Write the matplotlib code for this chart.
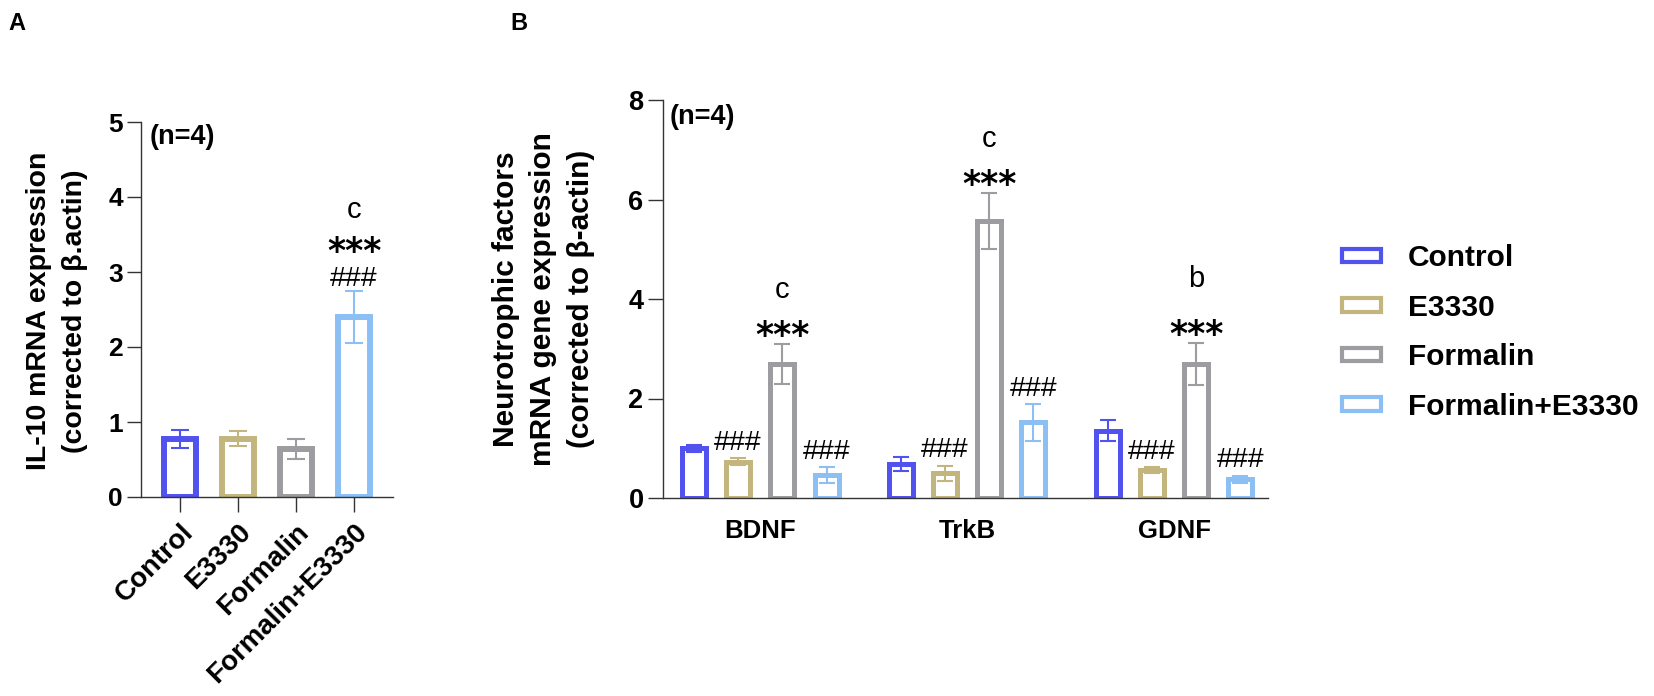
import matplotlib
matplotlib.use("Agg")
import matplotlib.pyplot as plt
from matplotlib.patches import Patch
import numpy as np

plt.rcParams['font.family'] = ['Liberation Sans', 'DejaVu Sans']

groups = ["Control", "E3330", "Formalin", "Formalin+E3330"]
colors = ["#5252EE", "#C2B67E", "#9D9DA1", "#8CC0F4"]

# Panel A: IL-10
il10_mean = [0.77, 0.78, 0.64, 2.40]
il10_err = [0.12, 0.10, 0.13, 0.35]
il10_hash = ["", "", "", "###"]
il10_star = ["", "", "", "***"]
il10_letter = ["", "", "", "c"]

# Panel B: neurotrophic factors
genes = ["BDNF", "TrkB", "GDNF"]
nf_mean = {
    "Control": [1.00, 0.68, 1.35],
    "E3330": [0.73, 0.50, 0.56],
    "Formalin": [2.70, 5.57, 2.70],
    "Formalin+E3330": [0.46, 1.52, 0.38],
}
nf_err = {
    "Control": [0.07, 0.14, 0.21],
    "E3330": [0.07, 0.15, 0.06],
    "Formalin": [0.40, 0.56, 0.42],
    "Formalin+E3330": [0.16, 0.37, 0.07],
}
nf_hash = {
    "Control": ["", "", ""],
    "E3330": ["###", "###", "###"],
    "Formalin": ["", "", ""],
    "Formalin+E3330": ["###", "###", "###"],
}
nf_star = {"Formalin": ["***", "***", "***"]}
nf_letter = {"Formalin": ["c", "c", "b"]}

ylabel_A = ["IL-10 mRNA expression", "(corrected to β.actin)"]
ylabel_B = ["Neurotrophic factors", "mRNA gene expression", "(corrected to β-actin)"]

W, H = 1654, 696
fig = plt.figure(figsize=(W / 100, H / 100), dpi=100)

def ax_rect(x0, y0, x1, y1):
    return [x0 / W, 1 - y1 / H, (x1 - x0) / W, (y1 - y0) / H]

axis_col = "#333333"
HASH_FS = 20.5
STAR_FS = 25
LET_FS = 21
TICK_FS = 19
star_font = ["DejaVu Sans"]

# ---------------- Panel A ----------------
axA = fig.add_axes(ax_rect(141, 122, 393, 497))
xa = np.arange(len(groups))
for i in range(len(groups)):
    axA.bar(xa[i], il10_mean[i], width=0.55, facecolor="white",
            edgecolor=colors[i], linewidth=4.3, zorder=2)
    axA.errorbar(xa[i], il10_mean[i], yerr=il10_err[i], color=colors[i],
                 elinewidth=1.5, capsize=6.5, capthick=1.5, zorder=3, fmt="none")
    top = il10_mean[i] + il10_err[i]
    if il10_hash[i]:
        axA.text(xa[i], top + 0.07, il10_hash[i], ha="center", va="baseline",
                 fontsize=HASH_FS, color="black")
    if il10_star[i]:
        axA.text(xa[i], top + 0.38, il10_star[i], ha="center", va="baseline",
                 fontsize=STAR_FS, fontweight="bold", color="black",
                 family=star_font)
    if il10_letter[i]:
        axA.text(xa[i], top + 0.97, il10_letter[i], ha="center", va="baseline",
                 fontsize=LET_FS, color="black")
axA.set_xlim(-0.672, 3.672)
axA.set_ylim(0, 5)
axA.set_yticks([0, 1, 2, 3, 4, 5])
axA.set_xticks(xa)
axA.set_xticklabels(groups, rotation=45, ha="right", va="top",
                    rotation_mode="anchor", fontweight="bold", fontsize=20)
for lab in axA.get_yticklabels():
    lab.set_fontweight("bold")
axA.tick_params(axis="y", labelsize=TICK_FS, length=10, width=1, color=axis_col, pad=3)
axA.tick_params(axis="x", length=11, width=1, color=axis_col, pad=5)
for s in ["top", "right"]:
    axA.spines[s].set_visible(False)
for s in ["left", "bottom"]:
    axA.spines[s].set_color(axis_col)
    axA.spines[s].set_linewidth(1)
axA.text(9 / 252, 0.995, "(n=4)", transform=axA.transAxes, ha="left", va="top",
         fontsize=19.5, fontweight="bold")
for xpix, line in zip([39, 75], ylabel_A):
    fig.text(xpix / W, 1 - 311 / H, line, rotation=90, ha="center", va="center",
             fontsize=20.5, fontweight="bold")

# ---------------- Panel B ----------------
axB = fig.add_axes(ax_rect(663, 100, 1268, 498))
xg = np.arange(len(genes))
off = 0.214
bw = 0.116
for j, g in enumerate(groups):
    xs = xg + (j - 1.5) * off
    for k in range(len(genes)):
        m = nf_mean[g][k]
        e = nf_err[g][k]
        axB.bar(xs[k], m, width=bw, facecolor="white", edgecolor=colors[j],
                linewidth=3.6, zorder=2)
        axB.errorbar(xs[k], m, yerr=e, color=colors[j], elinewidth=1.5,
                     capsize=5.5, capthick=1.5, zorder=3, fmt="none")
        top = m + e
        if nf_hash[g][k]:
            axB.text(xs[k], top + 0.17, nf_hash[g][k], ha="center",
                     va="baseline", fontsize=HASH_FS, color="black")
        if g in nf_star:
            axB.text(xs[k], top - 0.04, nf_star[g][k], ha="center",
                     va="baseline", fontsize=STAR_FS, fontweight="bold",
                     color="black", family=star_font)
        if g in nf_letter:
            lt = nf_letter[g][k]
            axB.text(xs[k], top + (1.12 if lt == "b" else 0.93), lt,
                     ha="center", va="baseline", fontsize=LET_FS, color="black")
axB.set_xlim(-0.469, 2.454)
axB.set_ylim(0, 8)
axB.set_yticks([0, 2, 4, 6, 8])
axB.set_xticks(xg)
axB.set_xticklabels(genes, fontweight="bold", fontsize=18.5)
for lab in axB.get_yticklabels():
    lab.set_fontweight("bold")
axB.tick_params(axis="y", labelsize=TICK_FS + 0.5, length=11, width=1, color=axis_col, pad=3)
axB.tick_params(axis="x", length=0, pad=15)
for s in ["top", "right"]:
    axB.spines[s].set_visible(False)
for s in ["left", "bottom"]:
    axB.spines[s].set_color(axis_col)
    axB.spines[s].set_linewidth(1)
axB.text(7 / 605, 0.99, "(n=4)", transform=axB.transAxes, ha="left", va="top",
         fontsize=19.5, fontweight="bold")
for xpix, line in zip([506, 543, 581], ylabel_B):
    fig.text(xpix / W, 1 - 299 / H, line, rotation=90, ha="center", va="center",
             fontsize=21.5, fontweight="bold")

handles = [Patch(facecolor="white", edgecolor=c, linewidth=3.0) for c in colors]
fig.legend(handles, groups, loc="upper left",
           bbox_to_anchor=(1342 / W, 1 - 244 / H),
           frameon=False, prop={"weight": "bold", "size": 21.5},
           handlelength=1.3, handleheight=0.32, handletextpad=0.9,
           labelspacing=0.72, borderaxespad=0, borderpad=0)

fig.text(8 / W, 1 - 23 / H, "A", fontsize=17, fontweight="bold", ha="left", va="center")
fig.text(510 / W, 1 - 23 / H, "B", fontsize=17, fontweight="bold", ha="left", va="center")

fig.savefig("out.png", dpi=100)
